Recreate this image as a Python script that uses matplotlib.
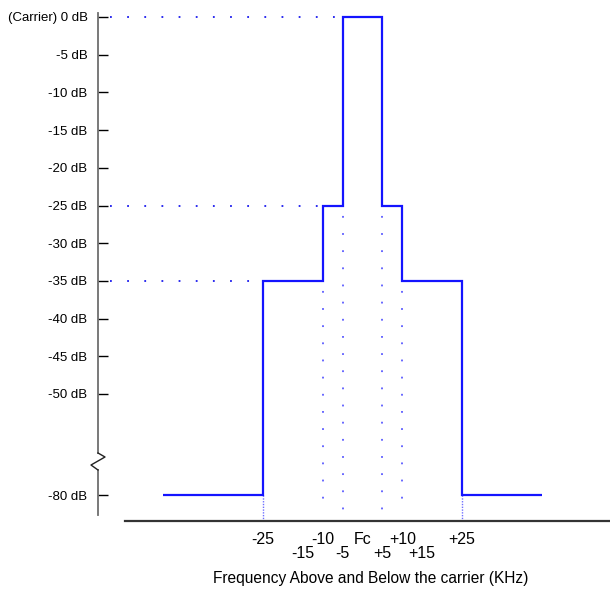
import numpy as np
import matplotlib
matplotlib.use("Agg")
import matplotlib.pyplot as plt

# ---- data ----
edges = [-50, -25, -10, -5, 5, 10, 25, 45]          # kHz band edges
levels = [-80, -35, -25, 0, -25, -35, -80]          # dB in each band
ytick_vals = [0, -5, -10, -15, -20, -25, -30, -35, -40, -45, -50, -80]
ytick_labels = ["(Carrier) 0 dB", "-5 dB", "-10 dB", "-15 dB", "-20 dB", "-25 dB",
                "-30 dB", "-35 dB", "-40 dB", "-45 dB", "-50 dB", "-80 dB"]
xtick_vals = [-25, -15, -10, -5, 0, 5, 10, 15, 25]
xtick_labels = ["-25", "-15", "-10", "-5", "Fc", "+5", "+10", "+15", "+25"]
xtick_row = [0, 1, 0, 1, 0, 1, 0, 1, 0]               # 0 upper row, 1 lower row
ref_levels = [0, -25, -35]                           # dotted guides to y axis
ref_ends = [-5, -10, -25]
drop_x = [-10, -5, 5, 10]
drop_top = [-35, -25, -25, -35]

BREAK = -55.0
K = 0.336

def fwd(y):
    y = np.asarray(y, dtype=float)
    return np.where(y >= BREAK, y, BREAK + (y - BREAK) * K)

def inv(s):
    s = np.asarray(s, dtype=float)
    return np.where(s >= BREAK, s, BREAK + (s - BREAK) / K)

W, H = 610, 605
fig = plt.figure(figsize=(W / 100, H / 100), dpi=100)
ax = fig.add_axes([0, 0, 1, 1])
ax.set_facecolor("white")

PXK = 3.98      # pixels per kHz
X0 = 362.5      # pixel of Fc
PXDB = 7.54     # pixels per scaled dB
Y0 = 17.0       # pixel of 0 dB

ax.set_xlim(-X0 / PXK, (W - X0) / PXK)
ax.set_yscale("function", functions=(fwd, inv))
ax.set_ylim(float(inv(-(H - Y0) / PXDB)), float(inv(Y0 / PXDB)))

for s in ax.spines.values():
    s.set_visible(False)

YAX = (98 - X0) / PXK
XAX_DB = float(inv(-(521 - Y0) / PXDB))
ax.spines["left"].set_position(("data", YAX))

# y axis line with break zigzag
zz = 7 / PXK
ytop = float(inv((Y0 - 13) / PXDB))
yb1 = float(inv(-(453 - Y0) / PXDB))
yb2 = float(inv(-(457 - Y0) / PXDB))
yb3 = float(inv(-(465 - Y0) / PXDB))
yb4 = float(inv(-(470 - Y0) / PXDB))
ybot = float(inv(-(515 - Y0) / PXDB))
ax.plot([YAX, YAX], [ytop, yb1], color="#6e6e6e", lw=1.3, clip_on=False, zorder=3)
ax.plot([YAX, YAX], [yb4, ybot], color="#6e6e6e", lw=1.3, clip_on=False, zorder=3)
ax.plot([YAX, YAX + zz, YAX - zz, YAX], [yb1, yb2, yb3, yb4],
        color="#222222", lw=1.0, clip_on=False, zorder=4)

# x axis line
ax.plot([(125 - X0) / PXK, (W - X0) / PXK], [XAX_DB, XAX_DB],
        color="#333333", lw=1.6, clip_on=False, zorder=3)

# y ticks
ax.set_yticks(ytick_vals)
ax.set_yticklabels(ytick_labels, family=["Liberation Sans Narrow", "Liberation Sans"],
                   fontsize=9.5)
ax.yaxis.set_minor_locator(matplotlib.ticker.NullLocator())
ax.tick_params(axis="y", direction="in", length=7.5, width=1.0, color="black",
               pad=7.5, left=True, labelleft=True)
ax.set_xticks([])

# dotted guides
for lv, xe in zip(ref_levels, ref_ends):
    ax.plot([(110 - X0) / PXK, xe], [lv, lv], color="#1a1aee", lw=1.3,
            linestyle=(0, (1, 8.5)), zorder=2)
floor_db = float(inv(-(513 - Y0) / PXDB))
for xd, yt in zip(drop_x, drop_top):
    ax.plot([xd, xd], [yt, floor_db], color="#5a5aff", lw=1.3,
            linestyle=(4, (1, 8.5)), zorder=2)
for xd in (edges[1], edges[-2]):
    ax.plot([xd, xd], [levels[0], XAX_DB], color="#7070ff", lw=1.0,
            linestyle=(0, (1, 1)), zorder=2)

# spectrum mask
ax.stairs(levels, edges, baseline=None, color="#1414ff", lw=1.6, zorder=5)

# x tick labels
row_y = [1 - 539 / H, 1 - 553.5 / H]
trans = matplotlib.transforms.blended_transform_factory(ax.transData, ax.transAxes)
for xv, lab, r in zip(xtick_vals, xtick_labels, xtick_row):
    ax.text(xv, row_y[r], lab, transform=trans, ha="center", va="center",
            family="Liberation Sans", fontsize=11.5)

ax.text(371 / W, 1 - 579 / H, "Frequency Above and Below the carrier (KHz)",
        transform=ax.transAxes, ha="center", va="center",
        family="Liberation Sans", fontsize=11.2)

fig.savefig("out.png", dpi=100, facecolor="white")
